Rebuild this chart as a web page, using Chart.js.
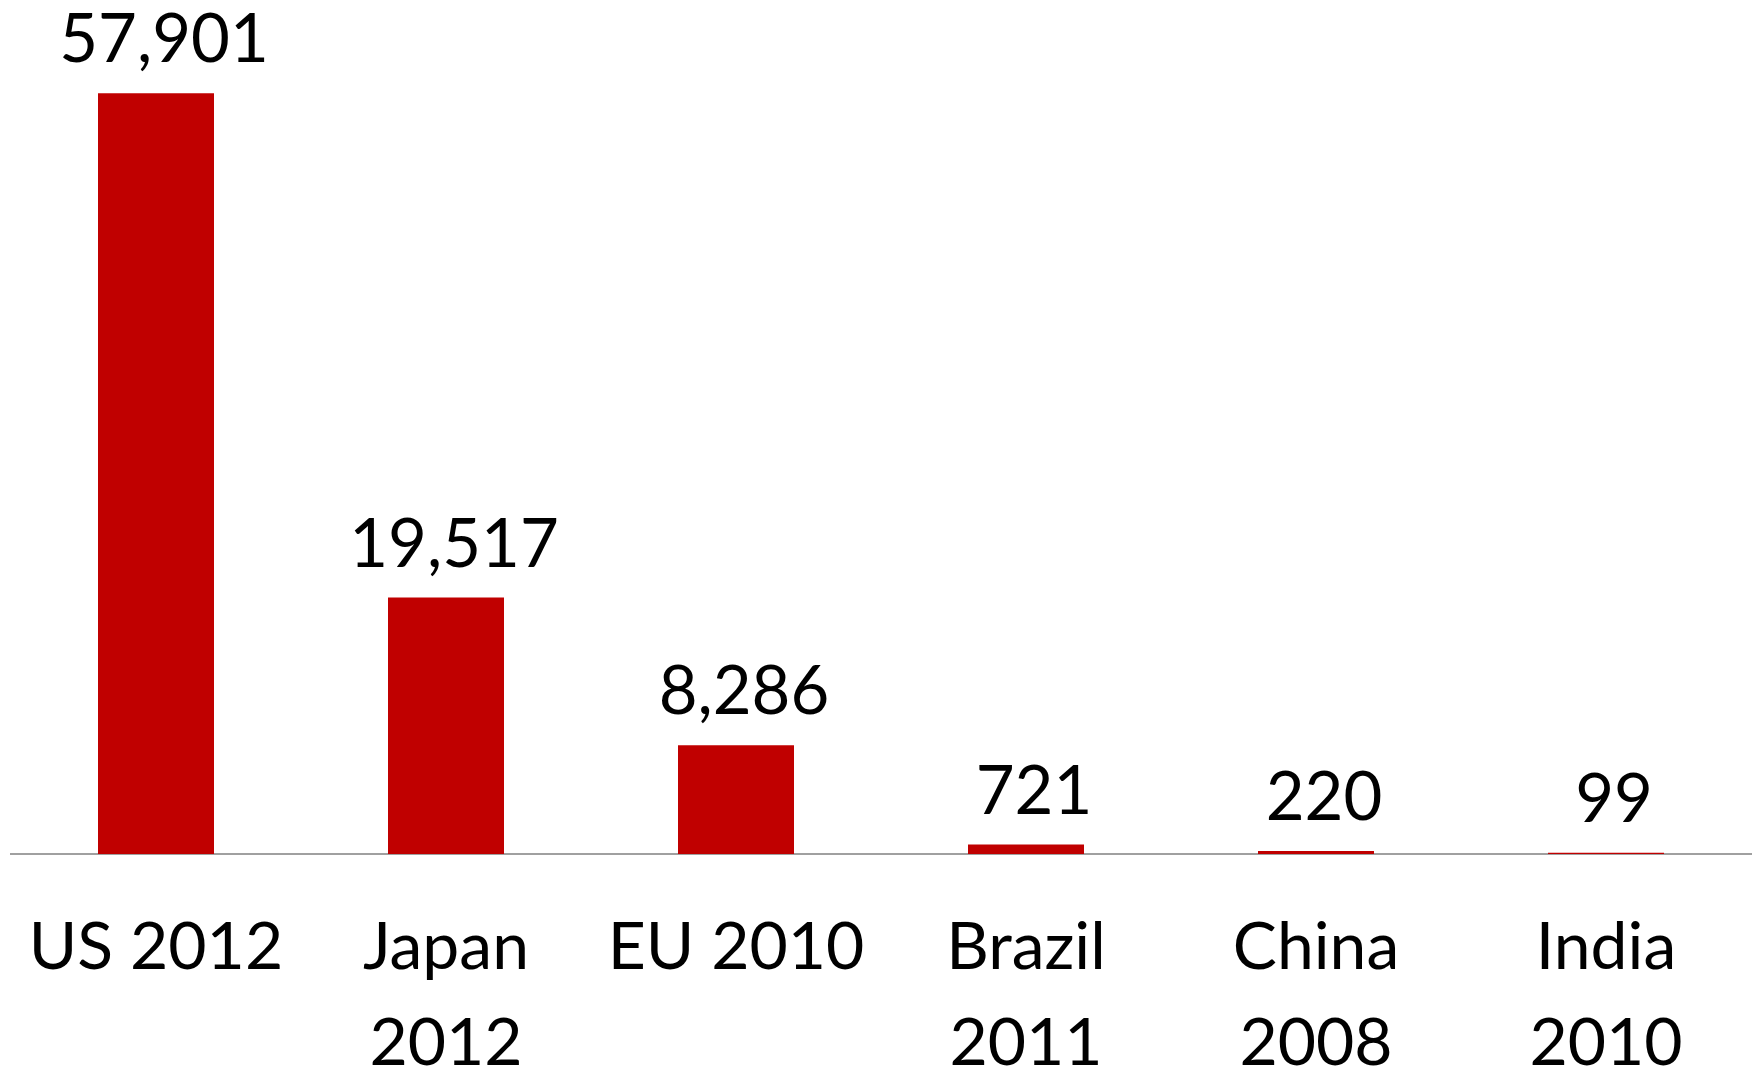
<!DOCTYPE html>
<html>
<head>
<meta charset="utf-8">
<script src="https://cdn.jsdelivr.net/npm/chart.js@4/dist/chart.umd.min.js"></script>
<style>
  html, body { margin: 0; padding: 0; background: #fff; }
  #wrap { width: 1762px; height: 1068px; }
</style>
</head>
<body>
<div id="wrap"><canvas id="patents" width="1762" height="1068"></canvas></div>
<script>
var categories = [['US 2012'], ['Japan', '2012'], ['EU 2010'], ['Brazil', '2011'], ['China', '2008'], ['India', '2010']];
var values = [57901, 19517, 8286, 721, 220, 99];

var FONT = 'Lato, "Open Sans", sans-serif';

// draws the number above each bar (sits a little right of the bar centre)
var valueLabels = {
    id: 'valueLabels',
    afterDatasetsDraw: function (chart) {
        var ctx = chart.ctx;
        var meta = chart.getDatasetMeta(0);
        ctx.save();
        ctx.font = '67px ' + FONT;
        ctx.fillStyle = '#000';
        ctx.textAlign = 'center';
        ctx.textBaseline = 'alphabetic';
        meta.data.forEach(function (bar, i) {
            ctx.fillText(values[i].toLocaleString('en-US'), bar.x + 8, bar.y - 31);
        });
        ctx.restore();
    }
};

var ctx = document.getElementById('patents').getContext('2d');
var chart = new Chart(ctx, {
    type: 'bar',
    data: {
        labels: categories,
        datasets: [{
            data: values,
            backgroundColor: '#C00000',
            borderWidth: 0,
            barPercentage: 0.4,
            categoryPercentage: 1.0
        }]
    },
    options: {
        responsive: false,
        animation: false,
        layout: { padding: { left: 11, right: 11, top: 0, bottom: 0 } },
        plugins: {
            legend: { display: false },
            tooltip: { enabled: false }
        },
        scales: {
            x: {
                grid: { display: false, drawTicks: false },
                border: { display: true, color: '#a0a0a0', width: 2 },
                ticks: {
                    color: '#000',
                    padding: 46,
                    maxRotation: 0,
                    autoSkip: false,
                    font: { family: FONT, size: 66, lineHeight: 1.45 }
                },
                afterFit: function (scale) {
                    // fixed axis band, labels may not push the plot inward
                    scale.height = 214;
                    scale.paddingLeft = 0;
                    scale.paddingRight = 0;
                }
            },
            y: {
                display: false,
                min: 0,
                max: 65000
            }
        }
    },
    plugins: [valueLabels]
});
</script>
</body>
</html>
